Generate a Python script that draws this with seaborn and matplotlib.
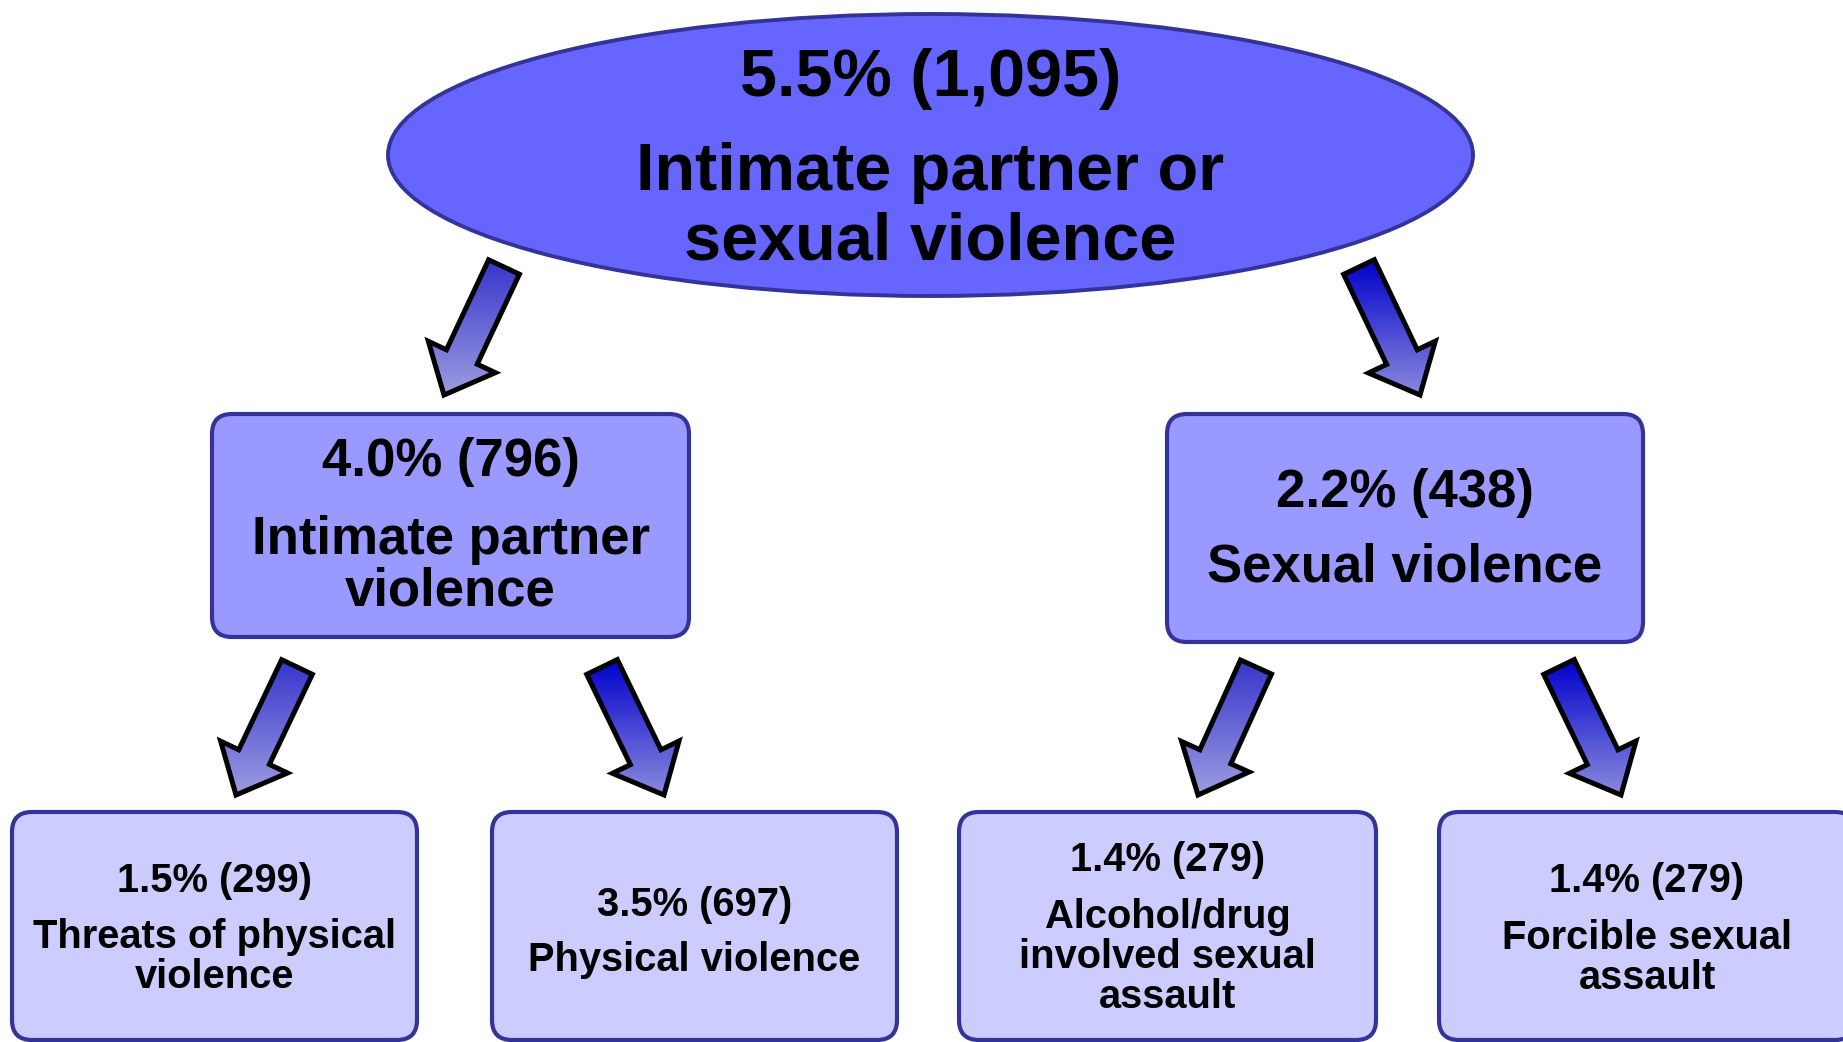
import numpy as np
import matplotlib
matplotlib.use("Agg")
import matplotlib.pyplot as plt
from matplotlib.patches import Ellipse, FancyBboxPatch, Polygon
import seaborn as sns

# ---- data ----
levels = ["top", "mid", "mid", "low", "low", "low", "low"]
pcts = [5.5, 4.0, 2.2, 1.5, 3.5, 1.4, 1.4]
counts = [1095, 796, 438, 299, 697, 279, 279]
labels = [
    "Intimate partner or\nsexual violence",
    "Intimate partner\nviolence",
    "Sexual violence",
    "Threats of physical\nviolence",
    "Physical violence",
    "Alcohol/drug\ninvolved sexual\nassault",
    "Forcible sexual\nassault",
]

sns.set_theme(style="white")
plt.rcParams["font.family"] = ["Liberation Sans", "DejaVu Sans"]

W, H = 1843, 1042
fig = plt.figure(figsize=(W / 100, H / 100), dpi=100)
ax = fig.add_axes([0, 0, 1, 1])
ax.set_xlim(0, W)
ax.set_ylim(H, 0)
ax.axis("off")

edge = "#333399"
fills = {"top": "#6666ff", "mid": "#9999ff", "low": "#ccccff"}
fsize_val = {"top": 48, "mid": 38, "low": 28.7}
fsize_lab = {"top": 48, "mid": 38, "low": 28.7}

# layout: (x0, x1, y0, y1) in pixel coords
boxes = [
    (388, 1473, 14, 296),
    (212, 689, 414, 637),
    (1167, 1643, 414, 642),
    (12, 417, 812, 1040),
    (492, 897, 812, 1040),
    (959, 1376, 812, 1040),
    (1439, 1855, 812, 1040),
]
# baseline of value line, baseline of first label line, label line spacing
text_pos = [
    (96, 190, 69),
    (476, 554, 51),
    (507, 582, 51),
    (892, 948, 40),
    (916, 971, 40),
    (871, 928, 40),
    (892, 949, 40),
]

for i, (lvl, p, c, lab) in enumerate(zip(levels, pcts, counts, labels)):
    x0, x1, y0, y1 = boxes[i]
    cx = (x0 + x1) / 2
    if lvl == "top":
        ax.add_patch(Ellipse((cx, (y0 + y1) / 2), x1 - x0, y1 - y0,
                             facecolor=fills[lvl], edgecolor=edge, lw=2.8, zorder=2))
    else:
        ax.add_patch(FancyBboxPatch((x0, y0), x1 - x0, y1 - y0,
                                    boxstyle="round,pad=0,rounding_size=20",
                                    facecolor=fills[lvl], edgecolor=edge, lw=3.0, zorder=2))
    vb, lb, ls = text_pos[i]
    ax.text(cx, vb, f"{p:.1f}% ({c:,})", ha="center", va="baseline",
            fontsize=fsize_val[lvl], fontweight="bold", color="black", zorder=4)
    for k, line in enumerate(lab.split("\n")):
        ax.text(cx, lb + k * ls, line, ha="center", va="baseline",
                fontsize=fsize_lab[lvl], fontweight="bold", color="black", zorder=4)

# arrows: tail center -> tip
arrows = [
    ((504, 267), (444, 395), "#3535cc", "#9c9ce0"),
    ((1359, 267), (1420, 395), "#0000cc", "#8a8ade"),
    ((297, 667), (236, 795), "#3535cc", "#9c9ce0"),
    ((602, 667), (664, 795), "#0000cc", "#8a8ade"),
    ((1256, 667), (1198, 795), "#3535cc", "#9c9ce0"),
    ((1559, 667), (1621, 795), "#0000cc", "#8a8ade"),
]
sw, hw, hl = 17, 37, 42
for (tx, ty), (px, py), c0, c1 in arrows:
    T = np.array([tx, ty], float)
    P = np.array([px, py], float)
    d = (P - T) / np.linalg.norm(P - T)
    n = np.array([-d[1], d[0]])
    B = P - d * hl
    pts = [T + n * sw, B + n * sw, B + n * hw, P, B - n * hw, B - n * sw, T - n * sw]
    pts = np.array(pts)
    poly = Polygon(pts, closed=True, facecolor="none", edgecolor="black",
                   lw=3.6, joinstyle="miter", zorder=3.5)
    ax.add_patch(poly)
    clip = Polygon(pts, closed=True, transform=ax.transData)
    ymin, ymax = pts[:, 1].min(), pts[:, 1].max()
    xmin, xmax = pts[:, 0].min(), pts[:, 0].max()
    pal = sns.blend_palette([c0, c1], n_colors=128)
    grad = np.array(pal)[:, None, :].repeat(2, axis=1)
    im = ax.imshow(grad, extent=(xmin, xmax, ymax, ymin), origin="upper",
                   aspect="auto", zorder=3, interpolation="bilinear")
    im.set_clip_path(clip)

ax.set_xlim(0, W)
ax.set_ylim(H, 0)
fig.savefig("out.png", dpi=100, facecolor="white")
